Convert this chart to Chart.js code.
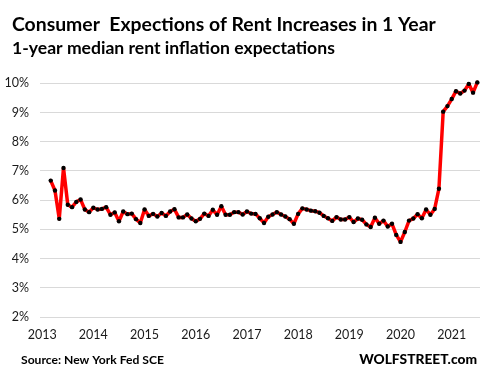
<!DOCTYPE html>
<html>
<head>
<meta charset="utf-8">
<script src="https://cdn.jsdelivr.net/npm/chart.js@4.4.0/dist/chart.umd.min.js"></script>
<style>
  html, body { margin: 0; padding: 0; background: #fff; }
  #wrap { width: 485px; height: 379px; }
</style>
</head>
<body>
<div id="wrap"><canvas id="chart" width="485" height="379"></canvas></div>
<script>
// monthly series, first point = June 2013 (month 5 counted from Jan 2013)
const firstMonth = 5;
const years = ["2013", "2014", "2015", "2016", "2017", "2018", "2019", "2020", "2021"];
const rentExpectations = [
  6.67, 6.33, 5.36, 7.10, 5.84, 5.76, 5.94, 6.02, 5.68, 5.59,
  5.74, 5.68, 5.70, 5.76, 5.50, 5.58, 5.28, 5.61, 5.52, 5.54,
  5.35, 5.22, 5.68, 5.46, 5.53, 5.44, 5.56, 5.46, 5.61, 5.69,
  5.41, 5.41, 5.51, 5.37, 5.28, 5.36, 5.54, 5.46, 5.67, 5.50,
  5.79, 5.50, 5.50, 5.59, 5.59, 5.51, 5.61, 5.54, 5.53, 5.38,
  5.22, 5.43, 5.51, 5.59, 5.51, 5.44, 5.35, 5.19, 5.53, 5.72,
  5.68, 5.64, 5.62, 5.57, 5.46, 5.38, 5.29, 5.42, 5.34, 5.34,
  5.42, 5.25, 5.37, 5.33, 5.17, 5.08, 5.40, 5.19, 5.30, 5.10,
  5.19, 4.81, 4.57, 4.91, 5.30, 5.37, 5.52, 5.38, 5.68, 5.50,
  5.70, 6.39, 9.03, 9.22, 9.46, 9.73, 9.65, 9.75, 9.98, 9.68,
  10.03
];

const title = "Consumer  Expections of Rent Increases in 1 Year";
const subtitle = "1-year median rent inflation expectations";
const source = "Source: New York Fed SCE";
const brand = "WOLFSTREET.com";

const FONT = "Lato, 'Liberation Sans', sans-serif";

// year label sits 2 months before the first point of each year's run
const yearTicks = years.map((y, k) => firstMonth - 2 + 12 * k);

// fixed texts, sized to fit widths
const texts = [
  { text: title, x: 12, y: 31, w: 424, align: "left", weight: "bold" },
  { text: subtitle, x: 12, y: 54, w: 323, align: "left", weight: "bold" },
  { text: source, x: 21, y: 364, w: 143, align: "left", weight: "bold" },
  { text: brand, x: 477, y: 364, w: 118, align: "right", weight: "900" },
];

const textPlugin = {
  id: "textPlugin",
  afterDraw(chart) {
    const ctx = chart.ctx;
    texts.forEach(t => {
      ctx.save();
      ctx.font = t.weight + " 20px " + FONT;
      const size = 20 * t.w / ctx.measureText(t.text).width;
      ctx.font = t.weight + " " + size.toFixed(2) + "px " + FONT;
      ctx.fillStyle = "#000";
      ctx.textAlign = t.align;
      ctx.textBaseline = "alphabetic";
      ctx.fillText(t.text, t.x, t.y);
      ctx.restore();
    });
  }
};

new Chart(document.getElementById("chart"), {
  type: "line",
  data: {
    datasets: [{
      label: "Rent expectations",
      data: rentExpectations.map((v, i) => ({ x: firstMonth + i, y: v })),
      borderColor: "#ff0000",
      borderWidth: 3.5,
      borderJoinStyle: "round",
      borderCapStyle: "round",
      pointRadius: 2.2,
      pointBackgroundColor: "#000",
      pointBorderWidth: 0,
      pointHoverRadius: 2.2,
      tension: 0,
      clip: 8,
    }],
  },
  options: {
    responsive: false,
    animation: false,
    events: [],
    layout: { padding: { left: 0, right: 5, top: 83.3, bottom: 32 } },
    plugins: {
      legend: { display: false },
      tooltip: { enabled: false },
      title: { display: false },
    },
    scales: {
      x: {
        type: "linear",
        min: firstMonth - 2.51,
        max: firstMonth - 2.51 + 103.14,
        afterFit(scale) { scale.height = 30; },
        afterBuildTicks(scale) {
          scale.ticks = yearTicks.map(v => ({ value: v }));
        },
        grid: { display: false, drawTicks: false },
        border: { display: false },
        ticks: {
          padding: 10,
          autoSkip: false,
          maxRotation: 0,
          color: "#1a1a1a",
          font: { family: FONT, size: 12.5 },
          callback: (v) => years[yearTicks.indexOf(v)],
        },
      },
      y: {
        min: 2,
        max: 10,
        afterFit(scale) { scale.width = 40; },
        grid: { color: "#d9d9d9", lineWidth: 1, drawTicks: false },
        border: { display: false },
        ticks: {
          stepSize: 1,
          padding: 11,
          color: "#1a1a1a",
          font: { family: FONT, size: 12.5 },
          callback: (v) => v + "%",
        },
      },
    },
  },
  plugins: [textPlugin],
});
</script>
</body>
</html>
